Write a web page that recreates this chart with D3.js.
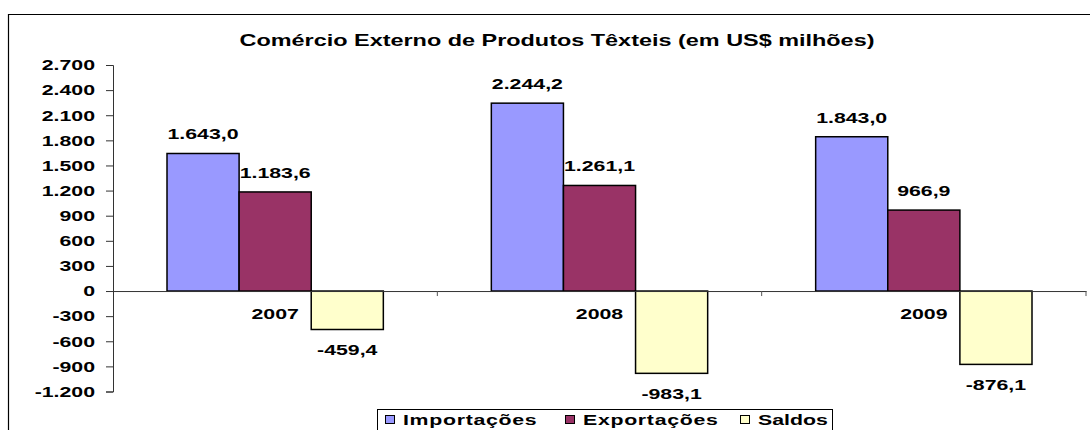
<!DOCTYPE html>
<html>
<head>
<meta charset="utf-8">
<script src="https://cdn.jsdelivr.net/npm/d3@7"></script>
<style>
  body { margin: 0; background: #fff; }
  svg { display: block; font-family: "Liberation Sans", Arial, sans-serif; font-weight: bold; }
</style>
</head>
<body>
<svg id="chart" width="1090" height="430"></svg>
<script>
// dados
var anos = ["2007", "2008", "2009"];
var series = ["Importações", "Exportações", "Saldos"];
var importacoes = [1643.0, 2244.2, 1843.0];
var exportacoes = [1183.6, 1261.1, 966.9];
var saldos = [-459.4, -983.1, -876.1];
var yTicks = [-1200, -900, -600, -300, 0, 300, 600, 900, 1200, 1500, 1800, 2100, 2400, 2700];
var cores = ["#9999FF", "#993366", "#FFFFCC"];

var valores = [importacoes, exportacoes, saldos];

// formato brasileiro (1.643,0)
var br = d3.formatLocale({decimal: ",", thousands: ".", grouping: [3], currency: ["R$", ""], minus: "-"});
var fmtVal = br.format(",.1f"), fmtTick = br.format(",.0f");

// o texto do original é mais largo que a Arial normal
var ESTICA = 1.42;
function estica(sel) {
    sel.each(function () {
        var t = d3.select(this), x0 = +t.attr("x") || 0;
        t.attr("transform", "translate(" + x0 + ",0) scale(" + ESTICA + ",1) translate(" + (-x0) + ",0)");
    });
}

var svg = d3.select("#chart");

// moldura do gráfico
svg.append("path")
    .attr("d", "M8.5,430 V14.5 H1090")
    .attr("fill", "none").attr("stroke", "#000").attr("stroke-width", 1.2);

svg.append("text")
    .attr("x", 557).attr("y", 46)
    .attr("text-anchor", "middle")
    .attr("font-size", 16.5)
    .text("Comércio Externo de Produtos Têxteis (em US$ milhões)")
    .call(estica);

var x = d3.scaleBand().domain(anos).range([113, 1086]);
var x1 = d3.scaleBand().domain(series).range([54, x.bandwidth() - 54]);
var y = d3.scaleLinear().domain([-1200, 2700]).range([391.5, 65]);

// eixo y
var yAxis = svg.append("g")
    .attr("transform", "translate(113,0)")
    .call(d3.axisLeft(y).tickValues(yTicks).tickFormat(fmtTick).tickSize(7).tickPadding(11));
yAxis.selectAll("text").attr("font-size", 15).attr("fill", "#000")
    .attr("font-family", "Liberation Sans, Arial, sans-serif").attr("font-weight", "bold")
    .call(estica);
yAxis.selectAll("line, path").attr("stroke", "#333");

// barras
var grupos = svg.selectAll(".ano")
    .data(anos)
    .enter().append("g")
    .attr("transform", function (d) { return "translate(" + x(d) + ",0)"; });

grupos.selectAll("rect")
    .data(function (d, i) {
        return series.map(function (s, j) { return {serie: s, j: j, v: valores[j][i]}; });
    })
    .enter().append("rect")
    .attr("x", function (d) { return x1(d.serie); })
    .attr("width", x1.bandwidth())
    .attr("y", function (d) { return y(Math.max(0, d.v)); })
    .attr("height", function (d) { return Math.abs(y(d.v) - y(0)); })
    .attr("fill", function (d) { return cores[d.j]; })
    .attr("stroke", "#000").attr("stroke-width", 1.5);

grupos.selectAll(".rotulo")
    .data(function (d, i) {
        return series.map(function (s, j) { return {serie: s, v: valores[j][i]}; });
    })
    .enter().append("text")
    .attr("class", "rotulo")
    .attr("x", function (d) { return x1(d.serie) + x1.bandwidth() / 2; })
    .attr("y", function (d) { return d.v >= 0 ? y(d.v) - 14 : y(d.v) + 26; })
    .attr("text-anchor", "middle")
    .attr("font-size", 15)
    .text(function (d) { return fmtVal(d.v); })
    .call(estica);

// eixo x (linha do zero)
var xAxis = svg.append("g")
    .attr("transform", "translate(0," + y(0) + ")")
    .call(d3.axisBottom(x).tickSize(0).tickPadding(17));
xAxis.select(".domain").attr("stroke", "#333");
xAxis.selectAll("text").attr("font-size", 15).attr("fill", "#000")
    .attr("font-family", "Liberation Sans, Arial, sans-serif").attr("font-weight", "bold")
    .call(estica);
// marcas entre categorias
svg.append("g").selectAll("line")
    .data(anos.slice(1).concat(["fim"]))
    .enter().append("line")
    .attr("x1", function (d, i) { return 113 + x.bandwidth() * (i + 1); })
    .attr("x2", function (d, i) { return 113 + x.bandwidth() * (i + 1); })
    .attr("y1", y(0)).attr("y2", y(0) + 5)
    .attr("stroke", "#555");

// legenda
var leg = svg.append("g");
leg.append("rect")
    .attr("x", 377.5).attr("y", 409.5).attr("width", 455).attr("height", 30)
    .attr("fill", "#fff").attr("stroke", "#000");
var legX = [385, 565, 740];
var itens = leg.selectAll(".item")
    .data(series)
    .enter().append("g")
    .attr("transform", function (d, i) { return "translate(" + legX[i] + ",0)"; });
itens.append("rect")
    .attr("x", 0.5).attr("y", 415.5).attr("width", 9).attr("height", 8)
    .attr("fill", function (d, i) { return cores[i]; })
    .attr("stroke", "#000");
itens.append("text")
    .attr("x", 18).attr("y", 425)
    .attr("font-size", 15)
    .attr("letter-spacing", function (d, i) { return i < 2 ? 0.5 : 0; })
    .text(function (d) { return d; })
    .call(estica);
</script>
</body>
</html>
